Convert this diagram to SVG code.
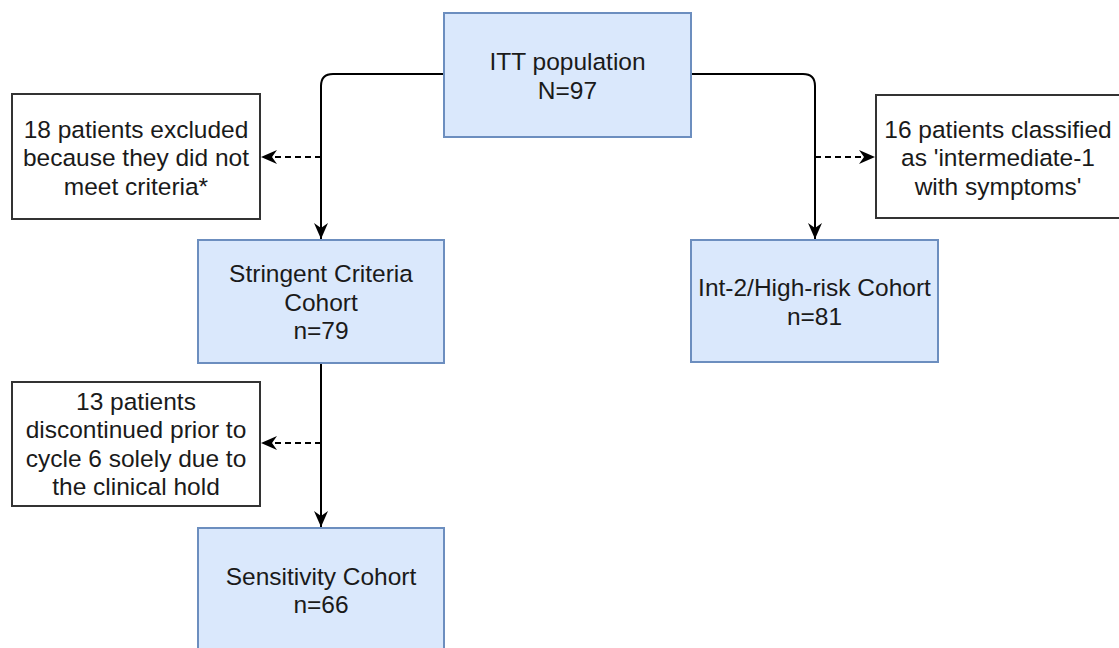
<svg xmlns="http://www.w3.org/2000/svg" width="1119" height="648" viewBox="0 0 1119 648">
<style>
.blue{fill:#dae8fc;stroke:#6c8ebf;stroke-width:2}
.white{fill:#ffffff;stroke:#333333;stroke-width:2}
text{font-family:"Liberation Sans",Arial,sans-serif;font-size:24.5px;fill:#1a1a1a;text-anchor:middle}
.edge{fill:none;stroke:#000;stroke-width:2}
.dash{stroke-dasharray:6,4}
</style>
<defs>
<marker id="arr" viewBox="0 0 16 14" refX="16" refY="7" markerWidth="16" markerHeight="14" markerUnits="userSpaceOnUse" orient="auto">
<path d="M0,0 L16,7 L0,14 L5,7 Z" fill="#000"/>
</marker>
</defs>
<rect width="1119" height="648" fill="#ffffff"/>
<g id="connectors">
<path class="edge" d="M444,74 L333,74 Q321,74 321,86 L321,239" marker-end="url(#arr)"/>
<path class="edge" d="M691,74 L803,74 Q815,74 815,86 L815,239" marker-end="url(#arr)"/>
<path class="edge dash" d="M321,157 L261,157" marker-end="url(#arr)"/>
<path class="edge dash" d="M815,157 L875,157" marker-end="url(#arr)"/>
<path class="edge" d="M321,363 L321,527" marker-end="url(#arr)"/>
<path class="edge dash" d="M321,443 L261,443" marker-end="url(#arr)"/>
</g>
<g id="itt">
<rect class="blue" x="444" y="13" width="247" height="124"/>
<text x="567.5" y="70">ITT population</text>
<text x="567.5" y="98.5">N=97</text>
</g>
<g id="excluded18">
<rect class="white" x="12" y="94" width="248" height="125"/>
<text x="136" y="137.5">18 patients excluded</text>
<text x="136" y="166">because they did not</text>
<text x="136" y="194.5">meet criteria*</text>
</g>
<g id="classified16">
<rect class="white" x="876" y="95" width="247" height="123"/>
<text x="998" y="137.5">16 patients classified</text>
<text x="998" y="166">as 'intermediate-1</text>
<text x="998" y="194.5">with symptoms'</text>
</g>
<g id="stringent">
<rect class="blue" x="198" y="240" width="246" height="123"/>
<text x="321" y="282">Stringent Criteria</text>
<text x="321" y="310.5">Cohort</text>
<text x="321" y="339">n=79</text>
</g>
<g id="int2">
<rect class="blue" x="691" y="240" width="247" height="122"/>
<text x="814.5" y="296">Int-2/High-risk Cohort</text>
<text x="814.5" y="324.5">n=81</text>
</g>
<g id="discontinued13">
<rect class="white" x="12" y="382" width="248" height="124"/>
<text x="136" y="409.5">13 patients</text>
<text x="136" y="438">discontinued prior to</text>
<text x="136" y="466.5">cycle 6 solely due to</text>
<text x="136" y="495">the clinical hold</text>
</g>
<g id="sensitivity">
<rect class="blue" x="198" y="528" width="246" height="124"/>
<text x="321" y="584.5">Sensitivity Cohort</text>
<text x="321" y="613">n=66</text>
</g>
</svg>
